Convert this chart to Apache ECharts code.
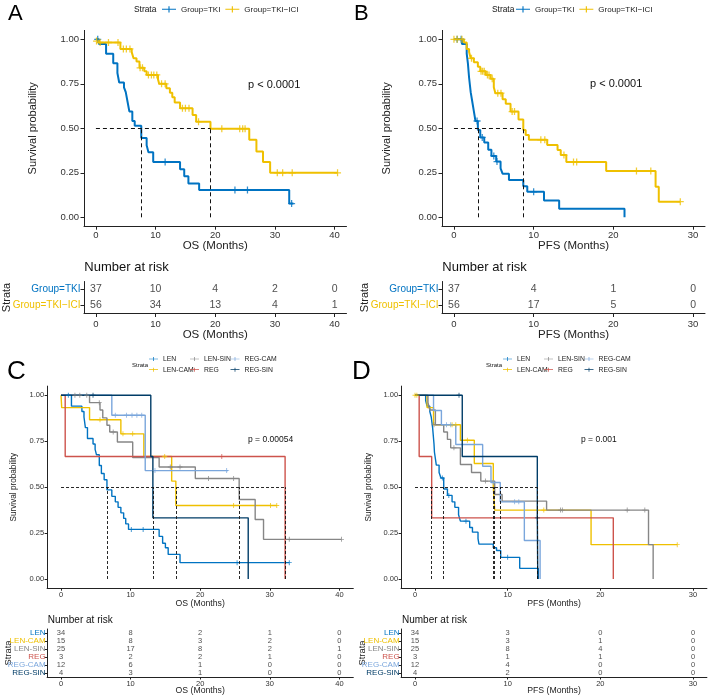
<!DOCTYPE html>
<html><head><meta charset="utf-8">
<script src="https://cdn.jsdelivr.net/npm/echarts@6/dist/echarts.min.js"></script>
<style>html,body{margin:0;padding:0;background:#fff}#c{width:708px;height:699px}</style>
</head><body><div id="c"></div>
<script>
// ---------------- DATA ----------------
const groupsAB = ['Group=TKI', 'Group=TKI−ICI'];
const groupsCD = ['LEN', 'LEN-CAM', 'LEN-SIN', 'REG', 'REG-CAM', 'REG-SIN'];
const riskTimesOS = [0, 10, 20, 30, 40];
const riskTimesPFS = [0, 10, 20, 30];
const tickOS = [0, 10, 20, 30, 40];
const tickPFS = [0, 10, 20, 30];
const tickSurv = [0, 0.25, 0.5, 0.75, 1];

// Panel A: OS
const osTKI = [[0,1],[0.5,0.973],[1.7,0.919],[2.9,0.865],[3.6,0.811],[3.9,0.757],[4.7,0.730],[5.0,0.703],[5.3,0.649],[5.6,0.595],[6.1,0.541],[6.5,0.514],[7.6,0.446],[8.5,0.405],[8.8,0.365],[9.6,0.311],[14.1,0.270],[14.8,0.230],[15.5,0.190],[17.3,0.153],[32.4,0.077],[33.1,0.077]];
const osTKIcens = [[0.3,1.0],[11.6,0.311],[23.3,0.153],[25.4,0.153],[32.8,0.077]];
const osICI = [[0,1],[0.4,0.982],[4.1,0.946],[6.0,0.928],[6.3,0.893],[6.8,0.875],[7.3,0.840],[8.1,0.820],[8.5,0.800],[10.4,0.775],[10.6,0.750],[11.8,0.725],[12.4,0.700],[12.8,0.675],[13.2,0.645],[14.1,0.612],[16.2,0.575],[16.8,0.537],[19.2,0.498],[25.7,0.435],[26.9,0.370],[28.0,0.310],[29.2,0.250],[40.5,0.250]];
const osICIcens = [[0.1,0.99],[0.7,0.982],[2.1,0.982],[3.7,0.982],[4.6,0.946],[5.1,0.946],[5.7,0.946],[7.4,0.840],[7.8,0.840],[8.8,0.800],[9.3,0.800],[9.7,0.800],[10.2,0.800],[11.0,0.750],[11.6,0.750],[14.5,0.612],[15.0,0.612],[15.6,0.612],[17.2,0.537],[21.1,0.498],[24.1,0.498],[24.6,0.498],[25.0,0.498],[30.4,0.250],[31.3,0.250],[32.9,0.250],[40.5,0.250]];
const medA = [7.6, 19.2];
const riskA = [[37,10,4,2,0],[56,34,13,4,1]];

// Panel B: PFS
const pfsTKI = [[0,1],[1.0,0.973],[1.6,0.919],[1.75,0.865],[1.9,0.784],[2.1,0.703],[2.3,0.649],[2.5,0.595],[2.7,0.541],[3.0,0.490],[3.3,0.449],[3.8,0.420],[4.3,0.380],[4.7,0.345],[5.3,0.313],[5.85,0.275],[6.1,0.245],[6.9,0.210],[8.7,0.175],[9.2,0.143],[11.3,0.095],[13.2,0.048],[21.4,0.0]];
const pfsTKIcens = [[0.4,1.0],[0.9,1.0],[2.9,0.541],[3.55,0.449],[5.0,0.345],[5.4,0.313],[10.0,0.143]];
const pfsICI = [[0,1],[1.25,0.982],[1.6,0.946],[1.9,0.928],[2.1,0.893],[2.5,0.871],[3.0,0.846],[3.3,0.820],[4.0,0.800],[4.6,0.778],[5.0,0.730],[5.2,0.697],[6.1,0.663],[6.5,0.638],[7.1,0.594],[8.1,0.550],[8.7,0.490],[9.0,0.462],[9.4,0.435],[11.7,0.406],[13.0,0.378],[13.4,0.350],[14.1,0.310],[19.1,0.260],[25.3,0.172],[25.7,0.088],[28.4,0.088]];
const pfsICIcens = [[0,1],[0.4,1],[1.0,1],[2.2,0.893],[3.4,0.820],[3.6,0.820],[3.8,0.820],[4.2,0.800],[4.4,0.800],[4.8,0.778],[5.5,0.697],[5.9,0.697],[7.3,0.594],[7.6,0.594],[10.9,0.435],[11.4,0.435],[13.8,0.350],[15.0,0.310],[15.4,0.310],[22.9,0.260],[24.7,0.260],[28.4,0.088]];
const medB = [3.0, 8.7];
const riskB = [[37,4,1,0],[56,17,5,0]];

// Panel C: OS by regimen
const osC = [
  [[0,1],[1.5,0.941],[3.0,0.912],[3.3,0.882],[3.5,0.824],[3.8,0.765],[4.6,0.735],[4.9,0.706],[5.1,0.676],[5.5,0.618],[5.8,0.574],[6.2,0.540],[6.6,0.485],[7.3,0.450],[7.8,0.420],[8.2,0.390],[8.6,0.360],[9.0,0.330],[9.3,0.300],[9.7,0.270],[14.1,0.232],[14.6,0.195],[15.0,0.170],[15.4,0.134],[17.1,0.089],[32.8,0.089]],
  [[0,1],[0.1,0.933],[4.1,0.867],[8.6,0.790],[11.9,0.667],[15.9,0.533],[16.5,0.400],[31.0,0.400]],
  [[0,1],[4.1,0.960],[5.6,0.920],[6.0,0.877],[6.6,0.837],[7.0,0.800],[8.1,0.746],[10.3,0.661],[14.1,0.610],[19.3,0.547],[25.6,0.433],[27.9,0.324],[29.1,0.216],[40.3,0.216]],
  [[0,1],[0.6,0.667],[32.2,0]],
  [[0,1],[7.3,0.891],[12.1,0.590],[24.0,0.590]],
  [[0,1],[12.9,0.667],[13.2,0.333],[26.9,0]]
];
const osCcens = [
  [[1.05,1],[10.1,0.270],[11.8,0.270],[25.3,0.089],[32.8,0.089]],
  [[5.6,0.867],[8.9,0.790],[10.3,0.790],[14.9,0.667],[24.8,0.400],[30.1,0.400],[31.0,0.400]],
  [[2.0,1],[2.7,1],[3.7,1],[5.5,0.960],[7.5,0.800],[15.7,0.610],[17.1,0.610],[21.2,0.547],[24.8,0.547],[32.8,0.216],[40.3,0.216]],
  [[23.1,0.667]],
  [[7.8,0.891],[9.4,0.891],[10.2,0.891],[10.9,0.891],[11.6,0.891],[13.5,0.590],[23.8,0.590]],
  [[4.6,1]]
];
const medC = [6.6, 13.2, 16.5, 25.6, 32.2];
const riskC = [[34,8,2,1,0],[15,8,3,2,0],[25,17,8,2,1],[3,2,2,1,0],[12,6,1,0,0],[4,3,1,0,0]];

// Panel D: PFS by regimen
const pfsD = [
  [[0,1],[1.15,0.971],[1.3,0.941],[1.6,0.912],[1.75,0.882],[1.9,0.824],[2.05,0.735],[2.1,0.690],[2.3,0.620],[2.6,0.580],[2.8,0.550],[3.1,0.490],[3.5,0.455],[4.0,0.420],[4.3,0.390],[4.7,0.350],[4.9,0.315],[5.9,0.280],[6.2,0.255],[6.8,0.220],[6.9,0.190],[8.45,0.170],[8.8,0.155],[9.25,0.118],[11.3,0.058],[13.3,0]],
  [[0,1],[1.3,0.933],[2.0,0.840],[4.9,0.755],[6.4,0.629],[8.45,0.500],[8.6,0.375],[19.0,0.187],[28.3,0.187]],
  [[0,1],[1.4,0.960],[1.6,0.920],[2.2,0.840],[3.1,0.800],[3.5,0.760],[3.85,0.714],[4.9,0.623],[6.1,0.580],[7.1,0.533],[8.6,0.460],[9.4,0.424],[14.2,0.375],[25.2,0.187],[25.7,0]],
  [[0,1],[0.45,0.667],[1.8,0.333],[21.4,0]],
  [[0,1],[2.0,0.917],[2.85,0.840],[4.4,0.732],[7.3,0.614],[8.2,0.525],[9.2,0.420],[11.8,0.210],[13.5,0]],
  [[0,1],[5.1,0.667],[13.2,0.333],[13.25,0]]
];
const pfsDcens = [
  [[2.95,0.550],[3.65,0.455],[5.5,0.315],[10.0,0.118]],
  [[0.0,1],[0.2,1],[4.0,0.840],[4.4,0.840],[5.65,0.755],[13.9,0.375],[28.3,0.187]],
  [[2.05,0.840],[4.2,0.714],[7.6,0.533],[15.7,0.375],[15.9,0.375],[22.9,0.375],[24.8,0.375]],
  [],
  [[3.4,0.840],[3.85,0.840],[8.45,0.525],[10.75,0.420],[11.2,0.420]],
  [[4.75,1],[13.2,0.333]]
];
const medD = [1.8, 3.1, 8.45, 8.6, 9.2, 13.2];
const riskD = [[34,3,0,0],[15,3,1,0],[25,8,4,0],[3,1,1,0],[12,4,0,0],[4,2,0,0]];

// ---------------- STYLE ----------------
const FF = "'Liberation Sans', Arial, Helvetica, sans-serif";
const COL_AB = ['#0073C2', '#EFC000'];
const COL_CD = ['#0073C2', '#EFC000', '#868686', '#CD534C', '#7AA6DC', '#003C67'];
const PLUS = 'path://M0,4.1H10V5.9H0Z M4.1,0H5.9V10H4.1Z';
const LEG_ICON = 'path://M0,4.2H20V5.8H0Z M9.2,0.5H10.8V9.5H9.2Z';
const AX = '#222';

const grids = [
  {left:84, top:30.4, width:262.5, height:195.8},
  {left:442, top:30.4, width:263, height:195.8},
  {left:84, top:281.5, width:262.5, height:32},
  {left:442, top:281.5, width:263, height:32},
  {left:47.1, top:386.1, width:306.2, height:202.1},
  {left:401.1, top:386.1, width:305.8, height:202.1},
  {left:47.1, top:629, width:306.2, height:48},
  {left:401.1, top:629, width:305.8, height:48}
].map(g => Object.assign({outerBoundsMode:'none', containLabel:false}, g));

function xAx(gi, min, max, ticks, name, fs, nfs, margin, gap, tl) {
  return {type:'value', gridIndex:gi, min, max, name, nameLocation:'middle', nameGap:gap, nameMoveOverlap:false,
    nameTextStyle:{fontSize:nfs, color:AX, fontFamily:FF},
    axisLine:{show:true, onZero:false, lineStyle:{color:AX, width:1}},
    axisTick:{show:true, length:tl, customValues:ticks, lineStyle:{color:AX}},
    axisLabel:{customValues:ticks, fontSize:fs, color:'#333', margin, fontFamily:FF},
    splitLine:{show:false}};
}
function yAx(gi, fs, nfs, margin, gap, tl) {
  return {type:'value', gridIndex:gi, min:-0.05, max:1.05, name:'Survival probability', nameLocation:'middle', nameGap:gap,
    nameMoveOverlap:false,
    nameTextStyle:{fontSize:nfs, color:AX, fontFamily:FF},
    axisLine:{show:true, onZero:false, lineStyle:{color:AX, width:1}},
    axisTick:{show:true, length:tl, customValues:tickSurv, lineStyle:{color:AX}},
    axisLabel:{customValues:tickSurv, formatter:v => v.toFixed(2), fontSize:fs, color:'#333', margin, fontFamily:FF},
    splitLine:{show:false}};
}
function yCat(gi, cats, cols, fs, nfs, margin, gap, tl) {
  const rich = {};
  cols.forEach((c, i) => rich['s' + i] = {color:c, fontSize:fs, fontFamily:FF});
  return {type:'category', gridIndex:gi, data:cats, inverse:true, name:'Strata', nameLocation:'middle', nameGap:gap,
    nameMoveOverlap:false,
    nameTextStyle:{fontSize:nfs, color:AX, fontFamily:FF},
    axisLine:{show:true, onZero:false, lineStyle:{color:AX, width:1}},
    axisTick:{show:true, alignWithLabel:true, interval:0, length:tl, lineStyle:{color:AX}},
    axisLabel:{margin, interval:0, hideOverlap:false, formatter:(v, i) => '{s' + i + '|' + v + '}', rich},
    splitLine:{show:false}};
}

const xAxis = [
  xAx(0, -2, 42, tickOS, 'OS (Months)', 9.5, 11.5, 4.5, 14, 3.5),
  xAx(1, -1.5, 31.5, tickPFS, 'PFS (Months)', 9.5, 11.5, 4.5, 14, 3.5),
  xAx(2, -2, 42, tickOS, 'OS (Months)', 9.5, 11.5, 5.5, 15, 3.5),
  xAx(3, -1.5, 31.5, tickPFS, 'PFS (Months)', 9.5, 11.5, 5.5, 15, 3.5),
  xAx(4, -2, 42, tickOS, 'OS (Months)', 7.5, 8.7, 3, 11.4, 2.5),
  xAx(5, -1.5, 31.5, tickPFS, 'PFS (Months)', 7.5, 8.7, 3, 11.4, 2.5),
  xAx(6, -2, 42, tickOS, 'OS (Months)', 7.5, 8.7, 3.2, 9.6, 2.5),
  xAx(7, -1.5, 31.5, tickPFS, 'PFS (Months)', 7.5, 8.7, 3.2, 9.6, 2.5)
];
const yAxis = [
  yAx(0, 9.5, 11, 5, 45.5, 3.5),
  yAx(1, 9.5, 11, 5, 49.5, 3.5),
  yCat(2, groupsAB, COL_AB, 10, 11, 3.5, 71.5, 3.5),
  yCat(3, groupsAB, COL_AB, 10, 11, 3.5, 71.5, 3.5),
  yAx(4, 7.5, 8.2, 3, 29, 2.5),
  yAx(5, 7.5, 8.2, 3, 28, 2.5),
  yCat(6, groupsCD, COL_CD, 8, 9.4, 1.5, 34.3, 2.5),
  yCat(7, groupsCD, COL_CD, 8, 9.4, 1.5, 34, 2.5)
];

const series = [];
function dashedLines(meds) {
  const hEnd = Math.max.apply(null, meds);
  const d = [[{coord:[0, 0.5]}, {coord:[hEnd, 0.5]}]];
  meds.forEach(m => d.push([{coord:[m, 0]}, {coord:[m, 0.5]}]));
  return d;
}
function addPanel(gi, names, curves, cens, cols, lw, cs, meds, dash) {
  names.forEach((n, i) => {
    series.push({type:'line', name:n, xAxisIndex:gi, yAxisIndex:gi, data:curves[i], step:'end', symbol:'none',
      lineStyle:{color:cols[i], width:lw}, itemStyle:{color:cols[i]}, silent:true, z:2});
  });
  names.forEach((n, i) => {
    series.push({type:'scatter', name:n, xAxisIndex:gi, yAxisIndex:gi, data:cens[i], symbol:PLUS, symbolSize:cs,
      itemStyle:{color:cols[i]}, silent:true, z:3});
  });
  series.push({type:'line', xAxisIndex:gi, yAxisIndex:gi, data:[], symbol:'none', silent:true, z:4,
    markLine:{silent:true, symbol:['none','none'], label:{show:false}, animation:false,
      lineStyle:{type:dash.type, color:'#111', width:dash.w}, data:dashedLines(meds)}});
}
function addRisk(gi, names, times, counts, fs) {
  const data = [];
  names.forEach((n, i) => times.forEach((t, k) => data.push([t, n, counts[i][k]])));
  series.push({type:'scatter', xAxisIndex:gi, yAxisIndex:gi, data, symbolSize:1, itemStyle:{color:'rgba(0,0,0,0)'},
    silent:true, labelLayout:{hideOverlap:false},
    label:{show:true, position:'inside', formatter:p => p.value[2], color:'#222', fontSize:fs, fontFamily:FF}});
}

addPanel(0, groupsAB, [osTKI, osICI], [osTKIcens, osICIcens], COL_AB, 2, 7, medA, {type:[4,3], w:1});
addPanel(1, groupsAB, [pfsTKI, pfsICI], [pfsTKIcens, pfsICIcens], COL_AB, 2, 7, medB, {type:[4,3], w:1});
addRisk(2, groupsAB, riskTimesOS, riskA, 10.5);
addRisk(3, groupsAB, riskTimesPFS, riskB, 10.5);
addPanel(4, groupsCD, osC, osCcens, COL_CD, 1.4, 5, medC, {type:[3,2], w:0.9});
addPanel(5, groupsCD, pfsD, pfsDcens, COL_CD, 1.4, 5, medD, {type:[3,2], w:0.9});
addRisk(6, groupsCD, riskTimesOS, riskC, 7.5);
addRisk(7, groupsCD, riskTimesPFS, riskD, 7.5);

function legendAB(left) {
  return {left, top:5.3, padding:0, orient:'horizontal', itemWidth:14, itemHeight:8, itemGap:5, icon:LEG_ICON,
    selectedMode:false, textStyle:{fontSize:8, color:'#222', fontFamily:FF},
    data:groupsAB.map((n, i) => ({name:n, itemStyle:{color:COL_AB[i]}}))};
}
function legendCol(left, idx) {
  return {left, top:355.5, padding:0, orient:'vertical', itemWidth:9, itemHeight:7, itemGap:3.7, icon:LEG_ICON,
    selectedMode:false, textStyle:{fontSize:6.8, lineHeight:7, color:'#222', fontFamily:FF},
    data:idx.map(i => ({name:groupsCD[i], itemStyle:{color:COL_CD[i]}}))};
}
const legend = [
  legendAB(162), legendAB(516),
  legendCol(149, [0,1]), legendCol(190, [2,3]), legendCol(230.5, [4,5]),
  legendCol(503, [0,1]), legendCol(544, [2,3]), legendCol(584.5, [4,5])
];

function txt(text, x, y, fs, color) {
  return {type:'text', x, y, silent:true, style:{text, fontSize:fs, fontFamily:FF, fill:color || '#111',
    textAlign:'left', textVerticalAlign:'middle', align:'left', verticalAlign:'middle'}};
}
const graphic = [
  txt('A', 8, 14, 22, '#000'), txt('B', 354, 14, 22, '#000'),
  txt('C', 7, 372, 26, '#000'), txt('D', 352, 372, 26, '#000'),
  txt('Strata', 134, 9.5, 8.4), txt('Strata', 492, 9.5, 8.4),
  txt('Strata', 132, 365, 6), txt('Strata', 486, 365, 6),
  txt('p < 0.0001', 248, 85, 11), txt('p < 0.0001', 590, 83.5, 11),
  txt('p = 0.00054', 248, 440, 8.5), txt('p = 0.001', 581, 440, 8.5),
  txt('Number at risk', 84.3, 267.7, 13), txt('Number at risk', 442.3, 267.5, 13),
  txt('Number at risk', 47.7, 620, 10), txt('Number at risk', 402, 620, 10)
];

const chart = echarts.init(document.getElementById('c'), null, {renderer:'canvas'});
chart.setOption({animation:false, backgroundColor:'#fff', grid:grids, xAxis, yAxis, series, legend, graphic,
  textStyle:{fontFamily:FF}});
</script></body></html>
